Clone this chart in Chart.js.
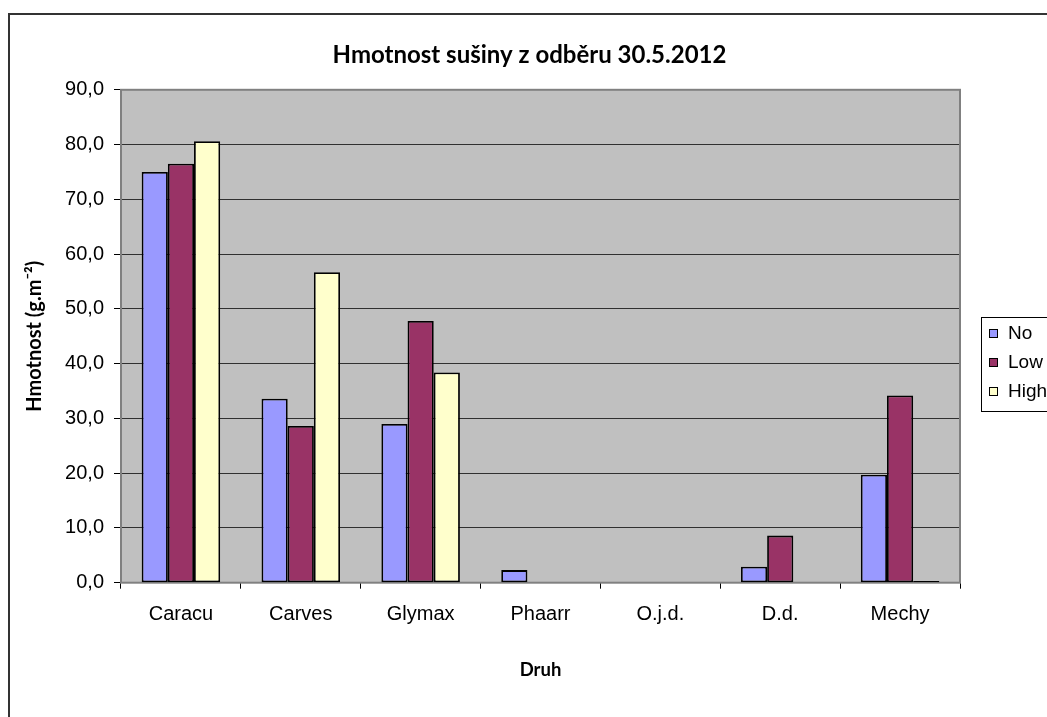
<!DOCTYPE html>
<html lang="cs">
<head>
<meta charset="UTF-8">
<title>Hmotnost sušiny</title>
<script src="https://cdn.jsdelivr.net/npm/chart.js"></script>
<style>
    body { margin: 0; background: #fff; }
    #wrap { width: 1047px; height: 717px; }
</style>
</head>
<body>
<div id="wrap"><canvas id="chart" width="1047" height="717"></canvas></div>
<script>
// Data
const druhy = ['Caracu', 'Carves', 'Glymax', 'Phaarr', 'O.j.d.', 'D.d.', 'Mechy'];
const hodnotyNo = [75.0, 33.6, 29.0, 2.3, 0, 2.9, 19.7];
const hodnotyLow = [76.5, 28.6, 47.8, 0, 0, 8.6, 34.2];
const hodnotyHigh = [80.6, 56.7, 38.4, 0, 0, 0, 0.3];
const nazvyRad = ['No', 'Low', 'High'];
const yMin = 0, yMax = 90, yKrok = 10;

const barvy = ['#9999ff', '#993366', '#ffffcc'];

// frame + grey plot area
const pozadi = {
    id: 'pozadi',
    beforeDraw(chart) {
        const ctx = chart.ctx;
        const a = chart.chartArea;
        ctx.save();
        ctx.fillStyle = '#fff';
        ctx.fillRect(0, 0, chart.width, chart.height);
        ctx.strokeStyle = '#333';
        ctx.lineWidth = 2;
        ctx.strokeRect(9, 14, chart.width + 20, chart.height + 20);
        ctx.fillStyle = '#c0c0c0';
        ctx.fillRect(a.left, a.top, a.right - a.left, a.bottom - a.top);
        ctx.restore();
    },
    beforeDatasetsDraw(chart) {
        const ctx = chart.ctx;
        const a = chart.chartArea;
        ctx.save();
        ctx.strokeStyle = '#808080';
        ctx.lineWidth = 2;
        ctx.strokeRect(a.left, a.top, a.right - a.left, a.bottom - a.top);
        ctx.restore();
    }
};

// legend in a box, like the Excel one
const legenda = {
    id: 'legenda',
    afterDraw(chart) {
        const ctx = chart.ctx;
        const x0 = 981, y0 = 317, radek = 29;
        ctx.save();
        ctx.strokeStyle = '#000';
        ctx.lineWidth = 1;
        ctx.strokeRect(x0 + 0.5, y0 + 0.5, 200, 94);
        ctx.font = '19px "Liberation Sans", Arial, sans-serif';
        ctx.textBaseline = 'middle';
        chart.data.datasets.forEach((ds, i) => {
            const y = y0 + 16 + i * radek;
            ctx.fillStyle = ds.backgroundColor;
            ctx.fillRect(x0 + 8, y - 4, 8, 8);
            ctx.strokeStyle = '#000';
            ctx.strokeRect(x0 + 8.5, y - 3.5, 8, 8);
            ctx.fillStyle = '#000';
            ctx.fillText(ds.label, x0 + 27, y + 1);
        });
        ctx.restore();
    }
};

const sady = [hodnotyNo, hodnotyLow, hodnotyHigh].map((d, i) => ({
    label: nazvyRad[i],
    data: d,
    backgroundColor: barvy[i],
    borderColor: '#000',
    borderWidth: 1.8,
    borderSkipped: false,
    categoryPercentage: 0.655,
    barPercentage: 1.0
}));

new Chart(document.getElementById('chart'), {
    type: 'bar',
    data: { labels: druhy, datasets: sady },
    plugins: [pozadi, legenda],
    options: {
        responsive: false,
        animation: false,
        layout: { padding: { left: 12, right: 0, top: 0, bottom: 0 } },
        plugins: {
            legend: { display: false },
            tooltip: { enabled: false },
            title: {
                display: true,
                text: 'Hmotnost sušiny z odběru 30.5.2012',
                color: '#000',
                font: { family: 'Lato', size: 24, weight: 'bold' },
                padding: { top: 41, bottom: 20 }
            }
        },
        scales: {
            x: {
                afterFit(scale) { scale.height = 134.3; },
                grid: {
                    offset: true,
                    drawOnChartArea: false,
                    drawTicks: true,
                    tickLength: 6,
                    tickColor: '#000'
                },
                border: { display: true, color: '#000', width: 1 },
                ticks: {
                    color: '#000',
                    padding: 14,
                    maxRotation: 0,
                    font: { family: 'Liberation Sans', size: 20 }
                },
                title: {
                    display: true,
                    text: 'Druh',
                    color: '#000',
                    font: { family: 'Lato', size: 18.5, weight: 'bold' },
                    padding: { top: 0, bottom: 36 }
                }
            },
            y: {
                min: yMin,
                max: yMax,
                afterFit(scale) { scale.width = 109; },
                grid: {
                    color: '#303030',
                    lineWidth: 1,
                    drawTicks: true,
                    tickLength: 7,
                    tickColor: '#000'
                },
                border: { display: true, color: '#000', width: 1 },
                ticks: {
                    stepSize: yKrok,
                    color: '#000',
                    padding: 10,
                    font: { family: 'Liberation Sans', size: 20 },
                    callback: v => v.toFixed(1).replace('.', ',')
                },
                title: {
                    display: true,
                    text: 'Hmotnost (g.m⁻²)',
                    color: '#000',
                    font: { family: 'Lato', size: 20, weight: 'bold' },
                    padding: { top: 11, bottom: 0 }
                }
            },
            // empty right axis only keeps room for the legend
            yPrava: {
                position: 'right',
                min: yMin,
                max: yMax,
                afterFit(scale) { scale.width = 87; },
                grid: { drawOnChartArea: false, drawTicks: false },
                border: { display: false },
                ticks: { display: false }
            }
        }
    }
});
</script>
</body>
</html>
